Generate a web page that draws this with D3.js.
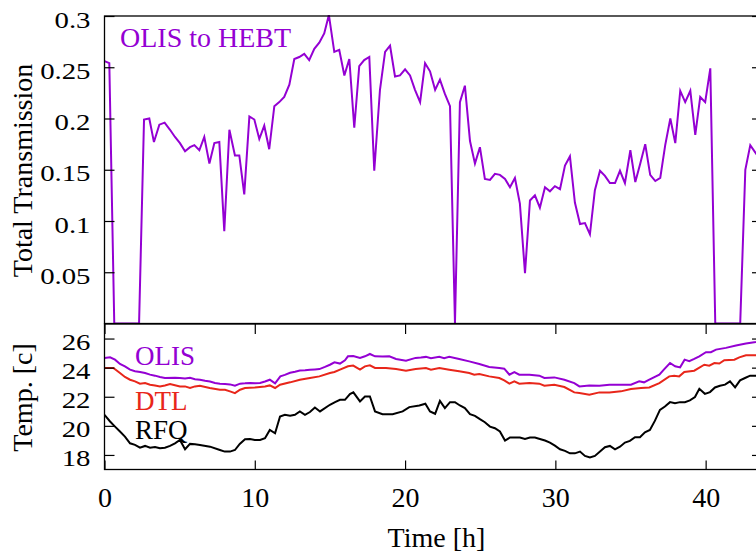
<!DOCTYPE html>
<html>
<head>
<meta charset="utf-8">
<script src="https://cdn.jsdelivr.net/npm/d3@7"></script>
<style>
  html, body { margin: 0; padding: 0; background: #fff; }
  svg { display: block; }
  text { font-family: "Liberation Serif", "Times New Roman", serif; fill: #000; }
</style>
</head>
<body>
<svg id="chart" width="756" height="557"></svg>
<script>
// ---- Beam transmission, OLIS to HEBT ----
const transTime = [0,0.32,0.65,0.98,1.31,1.64,1.97,2.3,2.63,2.98,3.29,3.65,4.0,4.36,4.69,5.02,
  5.36,5.69,5.98,6.31,6.64,6.98,7.31,7.64,7.97,8.31,8.68,8.97,9.3,9.64,9.97,10.3,
  10.63,10.96,11.3,11.63,11.96,12.3,12.63,12.96,13.29,13.62,13.96,14.29,14.62,14.93,15.29,15.62,
  15.96,16.29,16.62,16.95,17.28,17.62,17.95,18.33,18.67,19.0,19.33,19.66,20.0,20.33,20.66,21.0,
  21.33,21.66,22.0,22.32,22.65,22.99,23.32,23.65,23.98,24.32,24.65,24.98,25.31,25.65,25.98,26.31,
  26.65,26.98,27.31,27.64,27.98,28.31,28.64,28.97,29.31,29.64,29.97,30.31,30.64,30.97,31.3,31.64,
  31.97,32.3,32.63,32.97,33.3,33.63,33.97,34.3,34.63,34.99,35.32,35.65,35.98,36.31,36.65,36.98,
  37.31,37.65,37.98,38.31,38.64,38.98,39.31,39.64,39.97,40.31,40.64,40.97,41.3,41.64,41.97,42.3,
  42.64,42.97,43.3,43.63];
const transValue = [0.256,0.254,0,0,0,0,0,0,0.199,0.200,0.177,0.194,0.196,0.189,0.182,0.176,
  0.168,0.172,0.174,0.169,0.182,0.156,0.176,0.177,0.090,0.189,0.164,0.164,0.126,0.202,0.199,0.180,
  0.193,0.170,0.212,0.216,0.221,0.233,0.258,0.260,0.263,0.257,0.268,0.274,0.283,0.301,0.265,0.267,
  0.242,0.258,0.191,0.251,0.257,0.260,0.149,0.228,0.265,0.271,0.241,0.242,0.248,0.242,0.228,0.216,
  0.254,0.246,0.228,0.238,0.224,0.212,0,0.216,0.232,0.178,0.156,0.172,0.141,0.140,0.146,0.145,
  0.141,0.133,0.142,0.117,0.049,0.120,0.125,0.113,0.133,0.129,0.134,0.131,0.154,0.163,0.118,0.097,
  0.098,0.087,0.130,0.149,0.144,0.137,0.137,0.149,0.137,0.169,0.138,0.156,0.175,0.145,0.139,0.142,
  0.174,0.200,0.176,0.227,0.216,0.227,0.184,0.221,0.216,0.249,0,0,0,0,0,0,
  0.150,0.174,0.167,0.160];

// ---- Temperatures [c] ----
const olisTime = [0,0.37,0.7,1.03,1.36,1.7,2.03,2.37,2.7,3.03,3.36,3.69,4.02,4.69,5.02,5.36,5.69,
  6.02,6.35,6.69,7.02,7.35,7.68,8.02,8.35,8.68,9.02,9.35,9.7,10.02,10.35,10.68,11.0,11.35,11.7,
  12.0,12.35,12.68,13.0,13.35,13.67,14.0,14.3,14.67,15.0,15.3,15.67,16.0,16.2,16.55,17.0,17.33,
  17.66,18.0,18.5,18.95,19.4,20.06,20.7,21.05,21.39,21.72,22.28,22.6,22.94,23.6,24.27,24.94,25.6,
  26.27,26.6,26.94,27.27,27.6,28.28,28.93,29.27,29.93,30.6,31.26,31.6,32.26,32.93,33.6,34.3,35.03,
  35.58,35.9,36.25,36.92,37.25,37.63,37.97,38.3,38.6,38.91,39.24,39.58,40.02,40.35,40.69,41.35,
  42.02,42.68,43.35,43.7];
const olisTemp = [24.67,24.71,24.55,24.25,24.09,23.86,23.75,23.7,23.63,23.52,23.45,23.36,23.29,23.3,
  23.29,23.25,23.3,23.2,23.17,23.1,23.05,22.95,22.9,22.88,22.85,22.76,22.9,22.92,22.95,22.92,22.95,
  23.05,23.17,22.92,23.4,23.5,23.65,23.72,23.8,23.82,23.86,23.88,23.9,24.05,24.2,24.37,24.28,24.5,
  24.78,24.8,24.67,24.78,24.94,24.78,24.76,24.78,24.6,24.48,24.67,24.7,24.74,24.65,24.74,24.65,24.74,
  24.6,24.43,24.25,24.05,23.98,23.93,23.52,23.7,23.52,23.52,23.45,23.29,23.33,23.17,22.94,22.71,
  22.78,22.76,22.83,22.83,22.83,23.06,22.99,23.17,23.52,23.9,24.32,24.09,24.02,24.55,24.44,24.6,
  24.78,25.06,25.06,25.24,25.36,25.52,25.66,25.77,25.85];

const dtlTime = [0,0.59,1.03,1.36,1.7,2.03,2.36,2.7,3.03,3.36,3.69,4.02,4.36,5.02,5.36,5.69,6.02,
  6.35,7.0,7.68,8.02,8.35,8.68,9.02,9.35,10.0,10.68,11.0,11.35,11.68,12.35,13.0,13.67,14.3,15.0,
  15.3,15.67,16.2,16.55,17.0,17.33,17.66,18.0,18.73,19.4,20.06,20.7,21.39,21.72,22.28,22.94,23.6,
  24.27,24.6,24.94,25.6,26.27,26.6,26.94,27.27,27.6,28.28,28.93,29.27,29.93,30.6,31.26,31.6,32.26,
  32.93,33.6,34.36,35.03,35.7,36.25,36.92,37.58,37.91,38.24,38.58,39.24,39.91,40.24,40.58,40.91,
  41.24,41.91,42.24,42.68,43.35,43.7];
const dtlTemp = [23.98,23.98,23.63,23.36,23.17,23.06,22.9,22.94,22.83,22.78,22.71,22.78,22.87,22.71,
  22.71,22.6,22.71,22.76,22.6,22.48,22.48,22.37,22.25,22.48,22.6,22.64,22.71,22.78,22.6,22.83,22.99,
  23.17,23.29,23.4,23.63,23.7,23.86,24.09,24.14,23.86,24.09,24.16,23.98,23.98,23.9,23.79,23.9,23.98,
  23.86,23.98,23.86,23.75,23.63,23.52,23.56,23.4,23.29,23.13,22.9,23.06,22.9,22.94,22.9,22.76,22.83,
  22.67,22.3,22.25,22.14,22.3,22.3,22.37,22.53,22.6,22.64,22.94,23.4,23.45,23.4,23.7,23.79,24.2,
  24.14,24.32,24.28,24.51,24.55,24.71,24.85,24.85,24.88];

const rfqTime = [0,0.37,0.7,1.03,1.36,1.7,2.03,2.36,2.7,3.03,3.36,3.69,4.02,4.36,4.69,5.02,5.36,
  5.69,6.02,6.35,7.02,7.68,8.0,8.35,8.68,9.0,9.35,9.68,10.0,10.35,10.68,11.0,11.35,11.68,12.0,
  12.35,12.67,13.0,13.34,13.67,14.0,14.34,15.0,15.34,15.67,16.0,16.33,16.56,17.0,17.33,17.66,18.0,
  18.5,19.17,19.84,20.28,20.95,21.35,21.66,22.0,22.32,22.65,22.99,23.32,23.65,23.98,24.32,24.65,
  24.98,25.31,25.65,25.98,26.31,26.65,26.98,27.64,27.98,28.31,28.64,28.97,29.31,29.64,29.97,30.31,
  30.64,30.97,31.3,31.64,31.97,32.3,32.63,32.97,33.3,33.63,33.97,34.3,34.63,34.96,35.3,35.63,35.96,
  36.29,36.62,36.96,37.29,37.63,37.96,38.29,38.62,38.95,39.29,39.58,39.95,40.29,40.62,40.95,41.29,
  41.62,41.96,42.29,42.62,42.96,43.35,43.7];
const rfqTemp = [20.76,20.3,19.95,19.61,19.26,18.8,18.69,18.5,18.62,18.5,18.55,18.46,18.5,18.62,
  18.8,19.03,18.39,18.76,18.74,18.69,18.57,18.34,18.23,18.23,18.34,18.76,19.08,19.1,19.03,19.03,
  19.15,19.72,19.49,20.64,20.76,20.7,20.76,20.99,20.76,20.95,21.26,20.99,21.45,21.63,21.79,21.79,
  22.18,22.3,21.68,22.02,22.02,20.99,20.8,20.8,20.99,21.29,21.4,21.52,20.99,20.83,21.72,21.22,21.63,
  21.63,21.4,21.22,20.8,20.69,20.46,20.25,19.95,19.84,19.61,18.99,19.2,19.2,19.1,19.2,19.2,19.1,
  18.99,18.85,18.64,18.39,18.28,18.11,18.11,18.23,17.93,17.82,17.93,18.23,18.53,18.62,18.39,18.57,
  18.85,18.97,19.22,19.22,19.56,19.72,20.34,21.1,21.33,21.63,21.56,21.63,21.63,21.75,21.98,22.55,
  22.2,22.32,22.64,22.76,22.83,23.06,22.64,23.13,23.29,23.45,23.45,23.5];

// ---- Axis ticks and labels ----
const timeTicks = [0, 10, 20, 30, 40];
const transTicks = [0.05, 0.1, 0.15, 0.2, 0.25, 0.3];
const transTickLabels = ["0.05", "0.1", "0.15", "0.2", "0.25", "0.3"];
const tempTicks = [18, 20, 22, 24, 26];

const seriesNames = ["OLIS", "DTL", "RFQ"];
const seriesColors = ["#9400d3", "#e8261a", "#000000"];

// ---- Layout ----
const svg = d3.select("#chart");
svg.append("rect").attr("width", 756).attr("height", 557).attr("fill", "#fff");

const left = 104.5, right = 762;
const topT = 16, botT = 323.5;   // transmission panel
const topC = 324, botC = 469.5;  // temperature panel

const x = d3.scaleLinear().domain([0, 43.75]).range([left, right]);
const yT = d3.scaleLinear().domain([0, 0.3]).range([botT, topT]);
const yC = d3.scaleLinear().domain([17, 27]).range([botC, topC]);

const defs = svg.append("defs");
defs.append("clipPath").attr("id", "clipT").append("rect")
  .attr("x", left).attr("y", topT - 1).attr("width", right - left).attr("height", botT - topT + 1);
defs.append("clipPath").attr("id", "clipC").append("rect")
  .attr("x", left).attr("y", topC).attr("width", right - left).attr("height", botC - topC);

// transmission line
const transData = d3.zip(transTime, transValue);
svg.append("path")
  .datum(transData)
  .attr("clip-path", "url(#clipT)")
  .attr("fill", "none")
  .attr("stroke", seriesColors[0])
  .attr("stroke-width", 2)
  .attr("stroke-linejoin", "miter")
  .attr("d", d3.line().x(d => x(d[0])).y(d => yT(d[1])));

// temperature lines
const tempSeries = [
  d3.zip(olisTime, olisTemp),
  d3.zip(dtlTime, dtlTemp),
  d3.zip(rfqTime, rfqTemp)
];
tempSeries.forEach((data, i) => {
  svg.append("path")
    .datum(data)
    .attr("clip-path", "url(#clipC)")
    .attr("fill", "none")
    .attr("stroke", seriesColors[i])
    .attr("stroke-width", 2)
    .attr("d", d3.line().x(d => x(d[0])).y(d => yC(d[1])));
});

// ---- Axes ----
function styleAxis(g) {
  g.select(".domain").remove();
  g.selectAll(".tick line").attr("stroke", "#000").attr("stroke-width", 1.2);
}

// transmission panel: left labels, right mirror ticks
svg.append("g")
  .attr("transform", `translate(${left},0)`)
  .call(d3.axisLeft(yT).tickValues(transTicks).tickSize(-10)
    .tickFormat((d, i) => transTickLabels[i]))
  .call(styleAxis)
  .call(g => g.selectAll(".tick text")
    .attr("font-size", 24)
    .attr("text-anchor", "end")
    .attr("x", -14 / 1.2)
    .attr("dy", "0.46em")
    .attr("transform", "scale(1.2,1)")
    .style("font-family", '"Liberation Serif", serif'));
svg.append("g")
  .attr("transform", `translate(${right},0)`)
  .call(d3.axisRight(yT).tickValues(transTicks).tickSize(-10).tickFormat(""))
  .call(styleAxis);

// temperature panel
svg.append("g")
  .attr("transform", `translate(${left},0)`)
  .call(d3.axisLeft(yC).tickValues(tempTicks).tickSize(-10).tickFormat(d3.format("d")))
  .call(styleAxis)
  .call(g => g.selectAll(".tick text")
    .attr("font-size", 24)
    .attr("text-anchor", "end")
    .attr("x", -14 / 1.2)
    .attr("dy", "0.46em")
    .attr("transform", "scale(1.2,1)")
    .style("font-family", '"Liberation Serif", serif'));
svg.append("g")
  .attr("transform", `translate(${right},0)`)
  .call(d3.axisRight(yC).tickValues(tempTicks).tickSize(-10).tickFormat(""))
  .call(styleAxis);
svg.append("g")
  .attr("transform", `translate(0,${botC})`)
  .call(d3.axisBottom(x).tickValues(timeTicks).tickSize(-9).tickFormat(d3.format("d")))
  .call(styleAxis)
  .call(g => g.selectAll(".tick text")
    .attr("font-size", 28)
    .attr("y", 37)
    .attr("dy", 0)
    .style("font-family", '"Liberation Serif", serif'));
svg.append("g")
  .attr("transform", `translate(0,${topC})`)
  .call(d3.axisTop(x).tickValues(timeTicks).tickSize(-10).tickFormat(""))
  .call(styleAxis);

// panel frames
svg.append("rect")
  .attr("x", left).attr("y", topT).attr("width", right - left).attr("height", botT - topT)
  .attr("fill", "none").attr("stroke", "#000").attr("stroke-width", 1.3);
svg.append("rect")
  .attr("x", left).attr("y", topC).attr("width", right - left).attr("height", botC - topC)
  .attr("fill", "none").attr("stroke", "#000").attr("stroke-width", 1.3);

// ---- Titles and labels ----
svg.append("text")
  .attr("transform", "translate(32,170.5) rotate(-90)")
  .attr("text-anchor", "middle")
  .attr("font-size", 28)
  .text("Total Transmission");
svg.append("text")
  .attr("transform", "translate(32,397.5) rotate(-90)")
  .attr("text-anchor", "middle")
  .attr("font-size", 28)
  .text("Temp. [c]");
svg.append("text")
  .attr("x", 436.5).attr("y", 547)
  .attr("text-anchor", "middle")
  .attr("font-size", 28)
  .text("Time [h]");

svg.append("text")
  .attr("x", 120).attr("y", 47)
  .attr("font-size", 28)
  .style("fill", seriesColors[0])
  .text("OLIS to HEBT");

// series labels inside the temperature panel
const legendBaselines = [365, 409.5, 438.5];
seriesNames.forEach((name, i) => {
  svg.append("text")
    .attr("x", 135).attr("y", legendBaselines[i])
    .attr("font-size", 27)
    .style("fill", seriesColors[i])
    .text(name);
});
</script>
</body>
</html>
